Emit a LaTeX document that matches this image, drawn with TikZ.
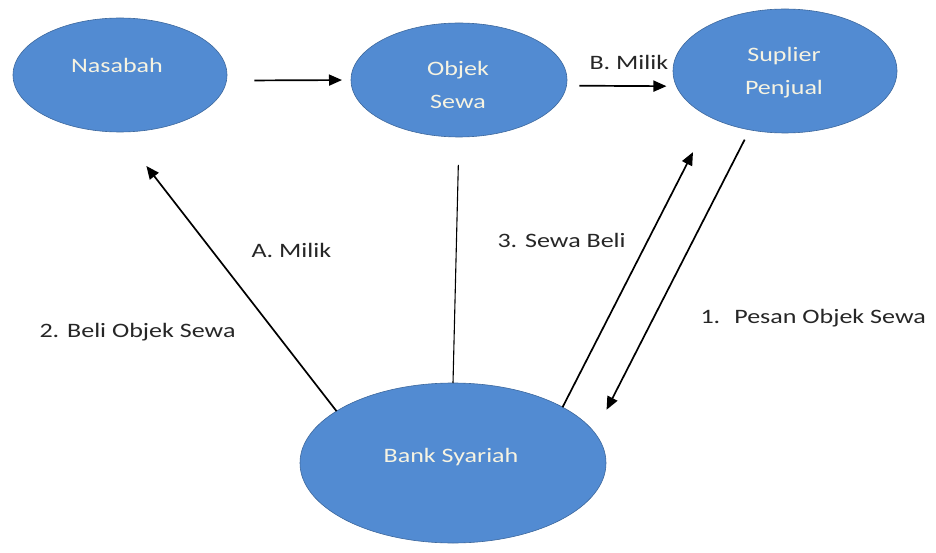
\documentclass[tikz,border=0pt]{standalone}
\usepackage{fontspec}
\setmainfont{Carlito}[FakeStretch=1.27]
\usetikzlibrary{shapes.geometric,arrows.meta}
\definecolor{biru}{RGB}{82,139,210}
\definecolor{krem}{RGB}{246,243,226}
\begin{document}
\begin{tikzpicture}[
        x=1pt, y=-1pt,
        bulat/.style={ellipse, draw=biru!75!black, fill=biru, line width=0.6pt,
          inner sep=0pt, outer sep=0pt},
        isi/.style={text=krem, align=center, font=\fontsize{20.5}{33}\selectfont},
        ket/.style={anchor=west, text=black!85, font=\fontsize{20.5}{24}\selectfont},
        panah/.style={line width=1.7pt, -{Triangle[length=13pt,width=11pt]}}]
        % 画布
        \useasboundingbox (0,0) rectangle (936,553);
        % 四个椭圆
        \node[bulat, minimum width=214pt, minimum height=114pt] (nas) at (120,75) {};
        \node[bulat, minimum width=216pt, minimum height=114pt] (obj) at (459,80) {};
        \node[bulat, minimum width=224pt, minimum height=124pt] (sup) at (785,71) {};
        \node[bulat, minimum width=306pt, minimum height=160pt] (bank) at (453,463) {};
        % 椭圆内文字
        \node[isi] (tnas) at (117,65) {Nasabah};
        \node[isi] (tobj) at (458,85) {Objek\\Sewa};
        \node[isi] (tsup) at (784,73) {Suplier\\Penjual};
        \node[isi] (tbank) at (451,457) {Bank Syariah};
        % 连线
        \draw[panah, shorten <=28pt, shorten >=9pt] (nas.-3) -- (obj.west);
        \draw[panah, shorten <=13pt, shorten >=10pt] (obj.-3) -- (sup.188);
        \draw[panah, shorten >=43pt] (bank.156) -- (nas.south);
        \draw[line width=1.1pt, shorten <=28pt] (obj.south) -- (bank.north);
        \draw[panah, shorten >=39pt] (bank.27) -- (sup.212);
        \draw[panah, shorten <=11pt, shorten >=26pt] (sup.239) -- (bank.12);
        % 标注
        \node[ket] (lb) at (586,62) {B. Milik};
        \node[ket] (la) at (248,250) {A. Milik};
        \node[ket] (l3) at (494,240) {3. Sewa Beli};
        \node[ket] (l2) at (36,332) {2. Beli Objek Sewa};
        \node[ket] (l1) at (697,318) {1.\hspace{14pt}Pesan Objek Sewa};
      \end{tikzpicture}
\end{document}
